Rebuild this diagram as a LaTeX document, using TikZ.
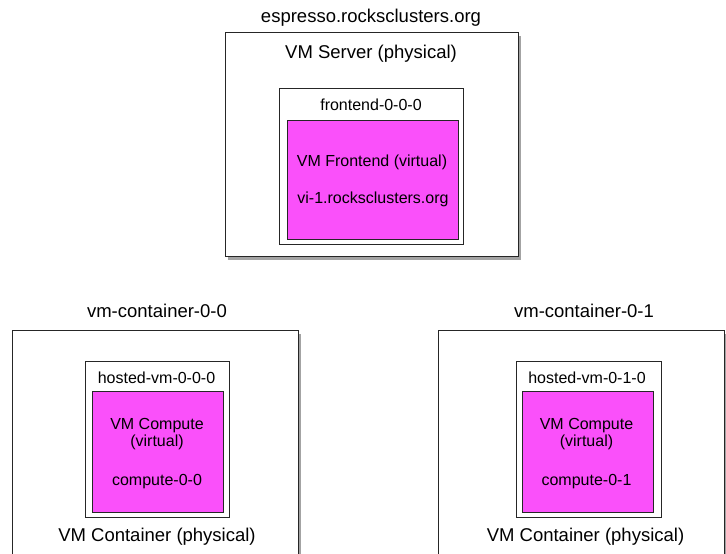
\documentclass[tikz,border=0pt]{standalone}
\usepackage{fontspec}
\setmainfont{Liberation Sans}
\usetikzlibrary{shadows}
\definecolor{vmpink}{RGB}{250,80,250}
\tikzset{box/.style={rectangle,draw=black!85,line width=0.8pt,inner sep=0pt}}
\tikzset{host/.style={box,fill=white,drop shadow={shadow xshift=2.5pt,shadow yshift=-3.5pt,opacity=.45,fill=black!80}}}
\tikzset{vm/.style={box,fill=white}}
\tikzset{guest/.style={box,fill=vmpink}}
\tikzset{big/.style={anchor=base,inner sep=0pt,font=\fontsize{18.5}{20}\selectfont}}
\tikzset{sm/.style={anchor=base,inner sep=0pt,font=\fontsize{16}{18}\selectfont}}

\begin{document}
\begin{tikzpicture}[x=1pt,y=-1pt]
    \useasboundingbox (0,0) rectangle (726,554);
    \clip (0,0) rectangle (726,554);
    % the server with the frontend
    \node[host,minimum width=293pt,minimum height=224pt] (S) at (371.5,144) {};
    \node[vm,minimum width=184pt,minimum height=156pt] (F) at (371,166) {};
    \node[guest,minimum width=171pt,minimum height=119pt] (FV) at (372.5,179.5) {};
    \node[big] (ST) at (371,23) {espresso.rocksclusters.org};
    \node[big] (SL) at (371,58) {VM Server (physical)};
    \node[sm] (FT) at (371,110) {frontend-0-0-0};
    \node[sm] (FL) at (372,166.7) {VM Frontend (virtual)};
    \node[sm] (FN) at (373,203.3) {vi-1.rocksclusters.org};
    % first container
    \node[host,minimum width=286pt,minimum height=260pt] (C0) at (155,460) {};
    \node[vm,minimum width=144pt,minimum height=156pt] (H0) at (157,439) {};
    \node[guest,minimum width=131pt,minimum height=121pt] (V0) at (157.5,451.5) {};
    \node[big] (C0T) at (157,317.3) {vm-container-0-0};
    \node[sm] (H0T) at (156.5,383.3) {hosted-vm-0-0-0};
    \node[sm] (V0L) at (157,429.3) {VM Compute};
    \node[sm] (V0V) at (157,446.7) {(virtual)};
    \node[sm] (V0N) at (157,485) {compute-0-0};
    \node[big] (C0L) at (157,541.7) {VM Container (physical)};
    % second container
    \node[host,minimum width=286pt,minimum height=260pt] (C1) at (581,460) {};
    \node[vm,minimum width=145pt,minimum height=156pt] (H1) at (588.5,439) {};
    \node[guest,minimum width=131pt,minimum height=121pt] (V1) at (587.5,451.5) {};
    \node[big] (C1T) at (584,317.3) {vm-container-0-1};
    \node[sm] (H1T) at (587,383.3) {hosted-vm-0-1-0};
    \node[sm] (V1L) at (586.5,429.3) {VM Compute};
    \node[sm] (V1V) at (586.5,446.7) {(virtual)};
    \node[sm] (V1N) at (586.5,485) {compute-0-1};
    \node[big] (C1L) at (585.5,541.7) {VM Container (physical)};
\end{tikzpicture}
\end{document}
